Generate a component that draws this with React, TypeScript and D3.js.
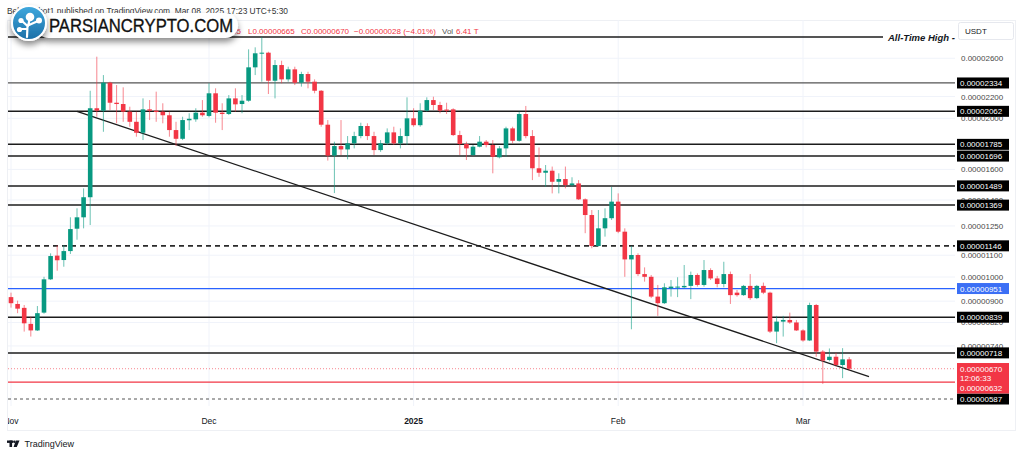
import React, { useEffect, useRef } from 'react'
import * as d3 from 'd3'

// daily candles from 1 Nov 2024, prices in 1e-8 USDT: [open, high, low, close]
const START = Date.UTC(2024, 10, 1)
const ohlc: [number, number, number, number][] = [
  [916, 934, 875, 892], [889, 902, 854, 871], [874, 885, 788, 817], [815, 841, 771, 792],
  [792, 881, 790, 854], [856, 1001, 852, 990], [990, 1109, 987, 1096], [1098, 1148, 1028, 1076],
  [1077, 1150, 1046, 1120], [1120, 1298, 1106, 1233], [1235, 1350, 1177, 1298], [1298, 1473, 1237, 1417],
  [1417, 2256, 1255, 2090], [2090, 2618, 2014, 2068], [2068, 2416, 1886, 2337], [2337, 2347, 2074, 2141],
  [2141, 2313, 1957, 2129], [2129, 2290, 1970, 2059], [2059, 2104, 1928, 1970], [1970, 2059, 1846, 1878],
  [1878, 2182, 1819, 2080], [2080, 2166, 1985, 2068], [2068, 2247, 1970, 2056], [2059, 2136, 1957, 2027],
  [2027, 2059, 1846, 1900], [1900, 1970, 1772, 1829], [1829, 2014, 1819, 1985], [1983, 2045, 1900, 1996],
  [1991, 2090, 1970, 2050], [2050, 2166, 2014, 2027], [2021, 2331, 2009, 2231], [2231, 2280, 1962, 2050],
  [2050, 2136, 1900, 2038], [2038, 2214, 2029, 2182], [2182, 2280, 2059, 2126], [2129, 2214, 2045, 2160],
  [2160, 2703, 2150, 2499], [2499, 2727, 2416, 2657], [2657, 2853, 2347, 2664], [2664, 2675, 2224, 2357],
  [2357, 2580, 2182, 2524], [2524, 2572, 2331, 2371], [2371, 2506, 2347, 2477], [2477, 2506, 2313, 2337],
  [2337, 2451, 2297, 2427], [2427, 2451, 2280, 2347], [2347, 2371, 2231, 2256], [2256, 2263, 1928, 1945],
  [1945, 1985, 1663, 1700], [1700, 1806, 1443, 1772], [1772, 1985, 1704, 1746], [1746, 1851, 1672, 1793],
  [1793, 1886, 1754, 1851], [1851, 1962, 1833, 1934], [1934, 1957, 1819, 1851], [1851, 1886, 1704, 1741],
  [1741, 1819, 1728, 1793], [1793, 1914, 1780, 1881], [1881, 1928, 1780, 1793], [1793, 1914, 1754, 1851],
  [1851, 2192, 1780, 2000], [2000, 2090, 1928, 1941], [1941, 2136, 1928, 2068], [2068, 2192, 2059, 2166],
  [2166, 2198, 2074, 2120], [2120, 2150, 2045, 2068], [2078, 2141, 2038, 2068], [2080, 2090, 1851, 1859],
  [1859, 1894, 1704, 1788], [1788, 1806, 1667, 1754], [1704, 1780, 1697, 1767], [1767, 1851, 1762, 1806],
  [1806, 1819, 1762, 1780], [1780, 1819, 1573, 1691], [1687, 1772, 1679, 1754], [1754, 1928, 1691, 1914],
  [1914, 1928, 1793, 1813], [1813, 2059, 1806, 2038], [2038, 2111, 1833, 1851], [1851, 1900, 1527, 1608],
  [1608, 1761, 1549, 1577], [1577, 1631, 1483, 1591], [1591, 1620, 1441, 1516], [1516, 1573, 1441, 1534],
  [1534, 1620, 1473, 1494], [1494, 1546, 1483, 1505], [1505, 1527, 1400, 1404], [1404, 1410, 1211, 1311],
  [1311, 1340, 1134, 1145], [1145, 1340, 1142, 1237], [1237, 1350, 1193, 1293], [1293, 1483, 1283, 1390],
  [1390, 1441, 1211, 1219], [1219, 1237, 1001, 1080], [1080, 1145, 796, 1101], [1101, 1109, 1004, 1013],
  [1013, 1043, 980, 1001], [1001, 1009, 912, 918], [918, 966, 844, 892], [892, 973, 889, 956],
  [952, 987, 918, 959], [955, 999, 916, 959], [956, 1054, 952, 962], [962, 1024, 908, 1009],
  [1009, 1016, 959, 966], [966, 1077, 959, 1031], [1031, 1039, 987, 994], [994, 1005, 956, 970],
  [970, 1069, 956, 1013], [1013, 1024, 889, 924], [934, 945, 918, 924], [924, 966, 921, 962],
  [962, 1013, 905, 912], [912, 966, 908, 962], [962, 976, 928, 934], [934, 938, 783, 788],
  [788, 844, 749, 823], [823, 844, 771, 829], [829, 856, 815, 820], [820, 829, 790, 792],
  [792, 796, 754, 758], [758, 894, 756, 885], [885, 889, 706, 722], [722, 727, 627, 694],
  [696, 732, 692, 706], [706, 718, 676, 681], [681, 733, 643, 698], [698, 705, 665, 670],
]

// drawn levels
const levelPrices = [2334, 2062, 1785, 1696, 1489, 1369, 1146, 839, 718]
const bluePrice = 951
const supportPrice = 632
const lowPrice = 587
const lastPrice = 670
const athPrice = 2853
const priceTicks = [2600, 2200, 2000, 1600, 1400, 1250, 1100, 1000, 900, 820, 740]
const trendDays = [10, 130]
const trendPrices = [2062, 647]
const countdown = '12:06:33'

const DAY = 864e5
const fmt = (v: number) => (v * 1e-8).toFixed(8)

export default function App() {
  const ref = useRef<SVGSVGElement>(null)

  useEffect(() => {
    const svg = d3.select(ref.current)
    svg.selectAll('*').remove()
    const font = '"Liberation Sans", Arial, sans-serif'
    const green = '#089981', red = '#f23645'
    const left = 8, right = 955, top = 20, bottom = 406

    const dayDate = (i: number) => new Date(START + i * DAY)
    const x = d3.scaleUtc().domain([dayDate(0), dayDate(127)]).range([11, 11 + 6.6 * 127])
    const y = d3.scaleLog().domain([lowPrice, athPrice]).range([399, 37])

    const defs = svg.append('defs')
    defs.append('clipPath').attr('id', 'plot').append('rect')
      .attr('x', left).attr('y', top).attr('width', right - left).attr('height', bottom - top)
    defs.append('clipPath').attr('id', 'taxis').append('rect')
      .attr('x', left).attr('y', bottom).attr('width', right - left).attr('height', 26)
    defs.append('filter').attr('id', 'shadow')
      .attr('x', '-20%').attr('y', '-60%').attr('width', '140%').attr('height', '240%')
      .append('feDropShadow').attr('dx', 0).attr('dy', 4).attr('stdDeviation', 3)
      .attr('flood-color', '#000').attr('flood-opacity', 0.45)
    const grad = defs.append('linearGradient').attr('id', 'logoGrad')
      .attr('x1', 0).attr('y1', 0).attr('x2', 0).attr('y2', 1)
    grad.append('stop').attr('offset', '0%').attr('stop-color', '#3fa9de')
    grad.append('stop').attr('offset', '100%').attr('stop-color', '#1b6ea6')

    svg.append('rect').attr('width', 1024).attr('height', 456).attr('fill', '#fff')
    svg.append('rect').attr('x', 7.5).attr('y', 20.5).attr('width', 1008).attr('height', 410)
      .attr('fill', 'none').attr('stroke', '#eef0f4')

    const plot = svg.append('g').attr('clip-path', 'url(#plot)')

    // grid
    plot.selectAll('.hg').data(priceTicks).enter().append('line')
      .attr('x1', left).attr('x2', right).attr('y1', d => y(d)).attr('y2', d => y(d))
      .attr('stroke', '#f0f3fa')
    const months = d3.utcMonth.range(dayDate(0), dayDate(128))
    plot.selectAll('.vg').data(months).enter().append('line')
      .attr('x1', d => x(d)).attr('x2', d => x(d)).attr('y1', top).attr('y2', bottom)
      .attr('stroke', '#f0f3fa')

    // levels
    const levelStyle = (v: number) =>
      v === 1146 ? { c: '#2a2a2a', w: 1.6, dash: '5,4' }
        : v === 2334 ? { c: '#555', w: 1.2, dash: null }
          : v === 1369 ? { c: '#555', w: 2, dash: null }
            : { c: '#1c1c1c', w: 1.5, dash: null }
    plot.selectAll('.lv').data(levelPrices).enter().append('line')
      .attr('x1', left).attr('x2', right).attr('y1', d => y(d)).attr('y2', d => y(d))
      .attr('stroke', d => levelStyle(d).c).attr('stroke-width', d => levelStyle(d).w)
      .attr('stroke-dasharray', d => levelStyle(d).dash)
    plot.append('line').attr('x1', left).attr('x2', 883).attr('y1', y(athPrice)).attr('y2', y(athPrice))
      .attr('stroke', '#1c1c1c').attr('stroke-width', 1.4)
    plot.append('line').attr('x1', left).attr('x2', right).attr('y1', y(bluePrice)).attr('y2', y(bluePrice))
      .attr('stroke', '#2962ff').attr('stroke-width', 1.2)
    plot.append('line').attr('x1', left).attr('x2', right).attr('y1', y(supportPrice)).attr('y2', y(supportPrice))
      .attr('stroke', red).attr('stroke-width', 1.2)
    plot.append('line').attr('x1', left).attr('x2', right).attr('y1', y(lowPrice)).attr('y2', y(lowPrice))
      .attr('stroke', '#555').attr('stroke-width', 1).attr('stroke-dasharray', '3,3')
    plot.append('line').attr('x1', left).attr('x2', right).attr('y1', y(lastPrice)).attr('y2', y(lastPrice))
      .attr('stroke', red).attr('stroke-width', 1).attr('stroke-dasharray', '1,2').attr('opacity', 0.6)

    // trend line
    const trend = d3.line<number>()
      .x((d, i) => x(dayDate(trendDays[i])))
      .y(d => y(d))
    plot.append('path').attr('d', trend(trendPrices)).attr('fill', 'none')
      .attr('stroke', '#1c1c1c').attr('stroke-width', 1.3)

    // candles
    const gs = plot.selectAll('.c').data(ohlc).enter().append('g')
    gs.append('line')
      .attr('x1', (d, i) => x(dayDate(i))).attr('x2', (d, i) => x(dayDate(i)))
      .attr('y1', d => y(d[1])).attr('y2', d => y(d[2]))
      .attr('stroke', d => d[3] >= d[0] ? green : red).attr('stroke-opacity', 0.6)
    gs.append('rect')
      .attr('x', (d, i) => x(dayDate(i)) - 2.3).attr('width', 4.6)
      .attr('y', d => y(Math.max(d[0], d[3])))
      .attr('height', d => Math.max(1, y(Math.min(d[0], d[3])) - y(Math.max(d[0], d[3]))))
      .attr('fill', d => d[3] >= d[0] ? green : red)

    // price axis
    svg.selectAll('.pt').data(priceTicks).enter().append('text')
      .attr('x', 961).attr('y', d => y(d) + 3).text(d => fmt(d))
      .attr('font-family', font).attr('font-size', 8).attr('fill', '#4a4a4a')
    const boxes = [...levelPrices.map(v => ({ v, c: '#000' })), { v: bluePrice, c: '#3b6ff5' }, { v: lowPrice, c: '#000' }]
    const bg = svg.selectAll('.bx').data(boxes).enter().append('g')
    bg.append('rect').attr('x', 957).attr('y', d => y(d.v) - 5.5).attr('width', 52).attr('height', 11)
      .attr('fill', d => d.c)
    bg.append('text').attr('x', 960).attr('y', d => y(d.v) + 3).text(d => fmt(d.v))
      .attr('font-family', font).attr('font-size', 8).attr('fill', '#fff')
    const rt = y(lastPrice) - 5.7
    svg.append('rect').attr('x', 957).attr('y', rt).attr('width', 52).attr('height', y(lowPrice) - 5.5 - rt)
      .attr('fill', red)
    svg.selectAll('.rl').data([fmt(lastPrice), countdown, fmt(supportPrice)]).enter().append('text')
      .attr('x', 960).attr('y', (d, i) => rt + 8.7 + i * 9.6).text(d => d)
      .attr('font-family', font).attr('font-size', 8).attr('fill', '#fff')

    // ATH label and currency box
    svg.append('text').attr('x', 888).attr('y', y(athPrice) + 3.5).text('All-Time High -')
      .attr('font-family', font).attr('font-size', 9.5).attr('font-weight', 'bold')
      .attr('font-style', 'italic').attr('fill', '#131722')
    svg.append('rect').attr('x', 958.5).attr('y', 22.5).attr('width', 55).attr('height', 17).attr('rx', 2)
      .attr('fill', '#fff').attr('stroke', '#e6e8ee')
    svg.append('text').attr('x', 965).attr('y', 33.5).text('USDT')
      .attr('font-family', font).attr('font-size', 8).attr('fill', '#131722')

    // time axis
    svg.append('g').attr('clip-path', 'url(#taxis)')
      .selectAll('text').data(months).enter().append('text')
      .attr('x', d => x(d)).attr('y', 424).attr('text-anchor', 'middle')
      .text(d => d.getUTCMonth() === 0 ? d3.utcFormat('%Y')(d) : d3.utcFormat('%b')(d))
      .attr('font-weight', d => d.getUTCMonth() === 0 ? 'bold' : 'normal')
      .attr('font-family', font).attr('font-size', 8.5).attr('fill', '#131722')

    // header
    svg.append('text').attr('x', 7).attr('y', 13.5)
      .text('Behnambot1 published on TradingView.com, Mar 08, 2025 17:23 UTC+5:30')
      .attr('textLength', 281).attr('lengthAdjust', 'spacingAndGlyphs')
      .attr('font-family', font).attr('font-size', 8.5).attr('fill', '#333')
    const last = ohlc[ohlc.length - 1]
    const prevClose = ohlc[ohlc.length - 2][3]
    const chg = last[3] - prevClose
    const legend = [
      { x: 139, t: 'O' + fmt(last[0]), c: red }, { x: 193, t: 'H' + fmt(last[1]), c: red },
      { x: 248, t: 'L' + fmt(last[2]), c: red }, { x: 301, t: 'C' + fmt(last[3]), c: red },
      { x: 354, t: '\u2212' + fmt(-chg) + ' (\u2212' + (-chg / prevClose * 100).toFixed(2) + '%)', c: red },
      { x: 442, t: 'Vol', c: '#555' }, { x: 456, t: '6.41 T', c: red },
    ]
    svg.selectAll('.lg').data(legend).enter().append('text')
      .attr('x', d => d.x).attr('y', 33.5).text(d => d.t)
      .attr('font-family', font).attr('font-size', 8).attr('fill', d => d.c)

    // watermark logo
    const logo = svg.append('g')
    logo.append('rect').attr('x', 36).attr('y', 13).attr('width', 202).attr('height', 25).attr('rx', 12.5)
      .attr('fill', '#fff').attr('filter', 'url(#shadow)')
    logo.append('text').attr('x', 49).attr('y', 31.5).text('PARSIANCRYPTO.COM')
      .attr('textLength', 184).attr('lengthAdjust', 'spacingAndGlyphs')
      .attr('font-family', font).attr('font-size', 17.5).attr('fill', '#111')
      .attr('stroke', '#111').attr('stroke-width', 0.3)
    logo.append('circle').attr('cx', 29).attr('cy', 23).attr('r', 17).attr('fill', 'url(#logoGrad)')
      .attr('stroke', '#fff').attr('stroke-width', 2).attr('filter', 'url(#shadow)')
    logo.append('path').attr('d', 'M27 37 L27.5 26 L22 21 M28 26 L30 18 M29 25 L38 21 M27.5 29 L20 29')
      .attr('stroke', '#fff').attr('stroke-width', 2.2).attr('fill', 'none').attr('stroke-linecap', 'round')
    logo.selectAll('.lc').data([[30, 17, 4.3], [21, 20.5, 2.6], [39, 20.5, 3], [19.5, 29.5, 2.6]]).enter()
      .append('circle').attr('cx', d => d[0]).attr('cy', d => d[1]).attr('r', d => d[2]).attr('fill', '#fff')

    // footer
    const tv = svg.append('g').attr('fill', '#131722')
    tv.append('rect').attr('x', 7).attr('y', 440.5).attr('width', 6).attr('height', 2.4)
    tv.append('rect').attr('x', 9.5).attr('y', 440.5).attr('width', 2.6).attr('height', 6.5)
    tv.append('circle').attr('cx', 14.3).attr('cy', 441.8).attr('r', 1.2)
    tv.append('path').attr('d', 'M15.8 440.5 L19.5 440.5 L16.8 447 L13.6 447 Z')
    svg.append('text').attr('x', 24.5).attr('y', 446.5).text('TradingView')
      .attr('font-family', font).attr('font-size', 9).attr('fill', '#131722')
  }, [])

  return (
    <svg ref={ref} width={1024} height={456}
      style={{ position: 'absolute', left: 0, top: 0, display: 'block' }} />
  )
}
